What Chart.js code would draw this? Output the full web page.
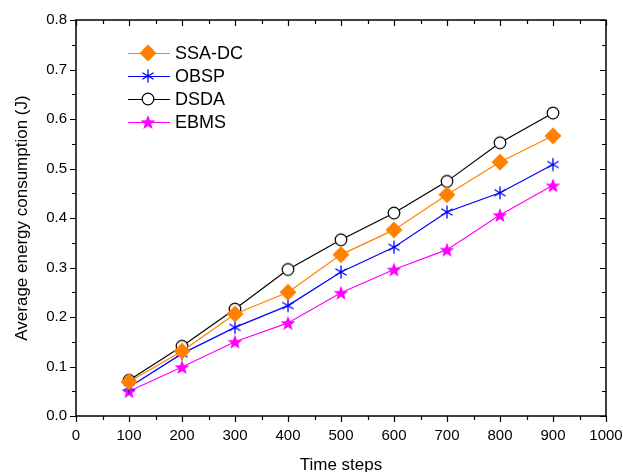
<!DOCTYPE html>
<html>
<head>
<meta charset="utf-8">
<script src="https://cdn.jsdelivr.net/npm/chart.js@4/dist/chart.umd.min.js"></script>
<style>
  html, body { margin: 0; padding: 0; background: #fff; }
  #wrap { width: 623px; height: 472px; position: relative; }
</style>
</head>
<body>
<div id="wrap"><canvas id="c" width="623" height="472"></canvas></div>
<script>
// Time steps on the x axis
const timeSteps = [100, 200, 300, 400, 500, 600, 700, 800, 900];

// Average energy consumption (J) per method
const ssaDC = [0.069, 0.131, 0.206, 0.250, 0.326, 0.376, 0.447, 0.513, 0.566];
const obsp  = [0.058, 0.126, 0.179, 0.223, 0.291, 0.341, 0.412, 0.451, 0.508];
const dsda  = [0.072, 0.141, 0.216, 0.296, 0.356, 0.410, 0.474, 0.552, 0.612];
const ebms  = [0.050, 0.099, 0.150, 0.188, 0.249, 0.296, 0.336, 0.406, 0.466];

const seriesNames = ['SSA-DC', 'OBSP', 'DSDA', 'EBMS'];

const xTickLabels = ['0','100','200','300','400','500','600','700','800','900','1000'];
const yTickLabels = ['0.0','0.1','0.2','0.3','0.4','0.5','0.6','0.7','0.8'];

const FONT = '"Liberation Sans", Arial, sans-serif';

// Marker images
function makeMarker(size, draw) {
  const cv = document.createElement('canvas');
  cv.width = size; cv.height = size;
  const ctx = cv.getContext('2d');
  draw(ctx, size / 2);
  return cv;
}
const diamond = makeMarker(20, (ctx, c) => {
  ctx.fillStyle = '#FF8000';
  ctx.beginPath();
  ctx.moveTo(c, c - 8.5); ctx.lineTo(c + 8.5, c); ctx.lineTo(c, c + 8.5); ctx.lineTo(c - 8.5, c);
  ctx.closePath(); ctx.fill();
});
const asterisk = makeMarker(16, (ctx, c) => {
  ctx.strokeStyle = '#0000FF';
  ctx.lineWidth = 1.3;
  const r = 6.5;
  ctx.beginPath();
  [90, 30, 150].forEach(a => {
    const t = a * Math.PI / 180;
    ctx.moveTo(c - r * Math.cos(t), c - r * Math.sin(t));
    ctx.lineTo(c + r * Math.cos(t), c + r * Math.sin(t));
  });
  ctx.stroke();
});
const circle = makeMarker(16, (ctx, c) => {
  ctx.fillStyle = '#fff';
  ctx.strokeStyle = '#000';
  ctx.lineWidth = 1.2;
  ctx.beginPath(); ctx.arc(c, c, 5.8, 0, Math.PI * 2); ctx.fill(); ctx.stroke();
});
const star = makeMarker(18, (ctx, c) => {
  ctx.fillStyle = '#FF00FF';
  ctx.beginPath();
  const R = 7.8, r = 3.3;
  for (let i = 0; i < 10; i++) {
    const rad = i % 2 === 0 ? R : r;
    const t = -Math.PI / 2 + i * Math.PI / 5;
    const px = c + rad * Math.cos(t), py = c + 0.8 + rad * Math.sin(t);
    if (i === 0) ctx.moveTo(px, py); else ctx.lineTo(px, py);
  }
  ctx.closePath(); ctx.fill();
});

function series(label, values, color, marker) {
  return {
    label,
    data: timeSteps.map((t, i) => ({ x: t, y: values[i] })),
    borderColor: color,
    backgroundColor: color,
    borderWidth: 1.2,
    pointStyle: marker,
    pointRadius: 7,
    tension: 0
  };
}

// Frame, mirrored ticks and minor ticks
const framePlugin = {
  id: 'frame',
  afterDraw(chart) {
    const { ctx, chartArea: a } = chart;
    const xs = chart.scales.x, ys = chart.scales.y;
    ctx.save();
    ctx.strokeStyle = '#000';
    ctx.lineWidth = 1.5;
    ctx.strokeRect(a.left, a.top, a.right - a.left, a.bottom - a.top);
    ctx.lineWidth = 1.2;
    ctx.beginPath();
    for (let v = 0; v <= 1000; v += 50) {
      const px = Math.round(xs.getPixelForValue(v)) + 0.5;
      const len = v % 100 === 0 ? 6 : 4;
      ctx.moveTo(px, a.bottom); ctx.lineTo(px, a.bottom + len);
      ctx.moveTo(px, a.top); ctx.lineTo(px, a.top + len);
    }
    for (let k = 0; k <= 16; k++) {
      const v = k * 0.05;
      const py = Math.round(ys.getPixelForValue(v)) + 0.5;
      const len = k % 2 === 0 ? 6 : 4;
      ctx.moveTo(a.left, py); ctx.lineTo(a.left - len, py);
      ctx.moveTo(a.right, py); ctx.lineTo(a.right - len, py);
    }
    ctx.stroke();
    ctx.restore();
  }
};

// Legend inside the plot area
const legendPlugin = {
  id: 'innerLegend',
  afterDatasetsDraw(chart) {
    const { ctx } = chart;
    ctx.save();
    ctx.font = '18px ' + FONT;
    ctx.textBaseline = 'middle';
    chart.data.datasets.forEach((ds, i) => {
      const y = 53 + i * 23;
      ctx.strokeStyle = ds.borderColor;
      ctx.lineWidth = 1.2;
      ctx.beginPath(); ctx.moveTo(128, y + 0.5); ctx.lineTo(170, y + 0.5); ctx.stroke();
      const img = ds.pointStyle;
      ctx.drawImage(img, 148 - img.width / 2, y - img.height / 2);
      ctx.fillStyle = '#000';
      ctx.fillText(ds.label, 175, y + 1);
    });
    ctx.restore();
  }
};

new Chart(document.getElementById('c'), {
  type: 'line',
  data: {
    datasets: [
      series(seriesNames[0], ssaDC, '#FF8000', diamond),
      series(seriesNames[1], obsp, '#0000FF', asterisk),
      series(seriesNames[2], dsda, '#000000', circle),
      series(seriesNames[3], ebms, '#FF00FF', star)
    ]
  },
  options: {
    responsive: false,
    animation: false,
    layout: { padding: { left: 0, top: 20, right: 17, bottom: 0 } },
    plugins: { legend: { display: false }, tooltip: { enabled: false } },
    scales: {
      x: {
        type: 'linear', min: 0, max: 1000,
        grid: { display: false, drawTicks: false },
        border: { display: false },
        afterFit(s) { s.height = 56; s.paddingLeft = 0; s.paddingRight = 0; },
        afterBuildTicks(s) { s.ticks = xTickLabels.map(t => ({ value: Number(t) })); },
        ticks: {
          autoSkip: false, maxRotation: 0, padding: 11, color: '#000',
          font: { family: FONT, size: 15 },
          callback: (v, i) => xTickLabels[i]
        },
        title: {
          display: true, text: 'Time steps', color: '#000',
          font: { family: FONT, size: 17 },
          padding: { top: 0, bottom: -4 }
        }
      },
      y: {
        type: 'linear', min: 0, max: 0.8,
        grid: { display: false, drawTicks: false },
        border: { display: false },
        afterFit(s) { s.width = 76; s.paddingTop = 0; s.paddingBottom = 0; },
        afterBuildTicks(s) { s.ticks = yTickLabels.map(t => ({ value: Number(t) })); },
        ticks: {
          autoSkip: false, padding: 9, color: '#000',
          font: { family: FONT, size: 15 },
          callback: (v, i) => yTickLabels[i]
        },
        title: {
          display: true, text: 'Average energy consumption (J)', color: '#000',
          font: { family: FONT, size: 17 },
          padding: { top: 12, bottom: 0 }
        }
      }
    }
  },
  plugins: [framePlugin, legendPlugin]
});
</script>
</body>
</html>
